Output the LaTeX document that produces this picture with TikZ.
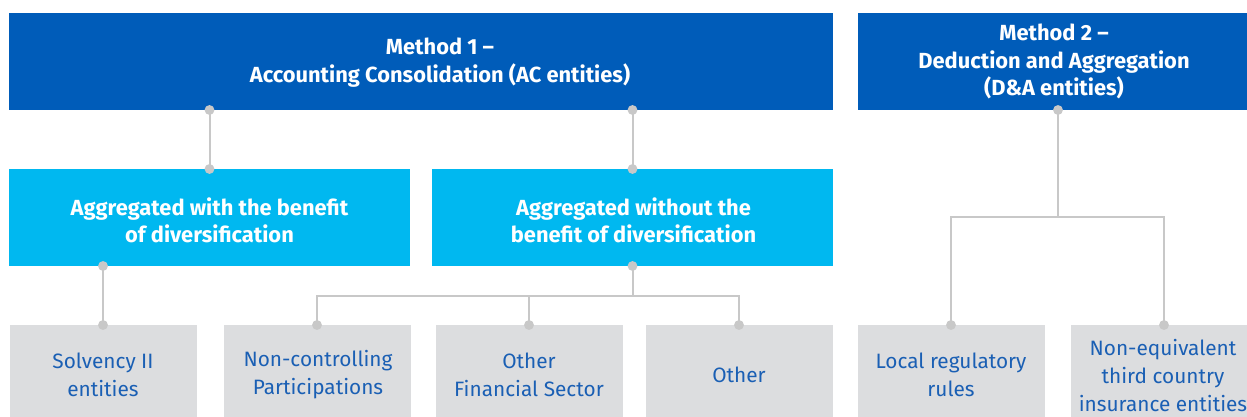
\documentclass[tikz,border=0pt]{standalone}
\usepackage{fontspec}
\setmainfont{Fira Sans}
\definecolor{dblue}{HTML}{005CB9}
\definecolor{cyanb}{HTML}{00B8F0}
\definecolor{gbox}{HTML}{DCDDDF}
\definecolor{gtext}{HTML}{1A5FB4}
\definecolor{connc}{HTML}{C8C8C8}
\begin{document}
\begin{tikzpicture}[x=0.75pt,y=-0.75pt,
  box/.style={inner sep=0pt, outer sep=0pt, draw=none},
  topbox/.style={box, fill=dblue, minimum height=72.75pt},
  midbox/.style={box, fill=cyanb, minimum width=300.75pt, minimum height=72.75pt},
  lowbox/.style={box, fill=gbox, minimum width=140.25pt, minimum height=74.25pt},
  boldlabel/.style={text=white, align=center, inner sep=0pt, font=\bfseries\fontsize{16.4}{20.5}\selectfont},
  lowlabel/.style={text=gtext, align=center, inner sep=0pt, font=\fontsize{15.6}{21}\selectfont},
  conn/.style={draw=connc, line width=1.5pt},
  dot/.style={fill=connc}
]
\useasboundingbox (0,0) rectangle (1247,417);
\clip (0,0) rectangle (1247,417);

% top boxes
\node[topbox, minimum width=618pt] (m1) at (421,61.5) {};
\node[boldlabel] (m1t) at (440,62.5) {Method 1 --\\Accounting Consolidation (AC entities)};
\node[topbox, minimum width=300pt] (m2) at (1058,61.5) {};
\node[boldlabel] (m2t) at (1054,61.5) {Method 2 --\\Deduction and Aggregation\\(D\&A entities)};

% middle boxes
\node[midbox] (c1) at (209.5,217.5) {};
\node[boldlabel] (c1t) at (209.5,220) {Aggregated with the benefit\\of diversification};
\node[midbox] (c2) at (632.5,217.5) {};
\node[boldlabel] (c2t) at (633.5,220) {Aggregated without the\\benefit of diversification};

% bottom boxes
\node[lowbox] (g1) at (103,374.5) {};
\node[lowlabel] (g1t) at (103,375) {Solvency II\\entities};
\node[lowbox] (g2) at (317,374.5) {};
\node[lowlabel] (g2t) at (318,375) {Non-controlling\\Participations};
\node[lowbox] (g3) at (529,374.5) {};
\node[lowlabel] (g3t) at (529,375) {Other\\Financial Sector};
\node[lowbox] (g4) at (739,374.5) {};
\node[lowlabel] (g4t) at (739,375) {Other};
\node[lowbox] (g5) at (951,374.5) {};
\node[lowlabel] (g5t) at (951,375) {Local regulatory\\rules};
\node[lowbox] (g6) at (1164,374.5) {};
\node[lowlabel] (g6t) at (1163,376) {Non-equivalent\\third country\\insurance entities};

\coordinate (bus1) at (0,296);
\coordinate (bus2) at (0,217);

% connectors
\draw[conn] (m1.south -| c1.north) -- (c1.north);
\draw[conn] (m1.south -| c2.north) -- (c2.north);
\draw[conn] (c1.south -| g1.north) -- (g1.north);
\draw[conn] (c2.south) -- (c2.south |- bus1);
\draw[conn] (g2.north) -- (g2.north |- bus1) -| (g4.north);
\draw[conn] (g3.north) -- (g3.north |- bus1);
\draw[conn] (m2.south) -- (m2.south |- bus2);
\draw[conn] (g5.north) -- (g5.north |- bus2) -| (g6.north);

% dots
\foreach \p in {m1.south -| c1.north, c1.north, m1.south -| c2.north, c2.north,
  c1.south -| g1.north, g1.north, c2.south, g2.north, g3.north, g4.north,
  m2.south, g5.north, g6.north}
  \fill[dot] (\p) circle[radius=3.7pt];
\end{tikzpicture}
\end{document}
